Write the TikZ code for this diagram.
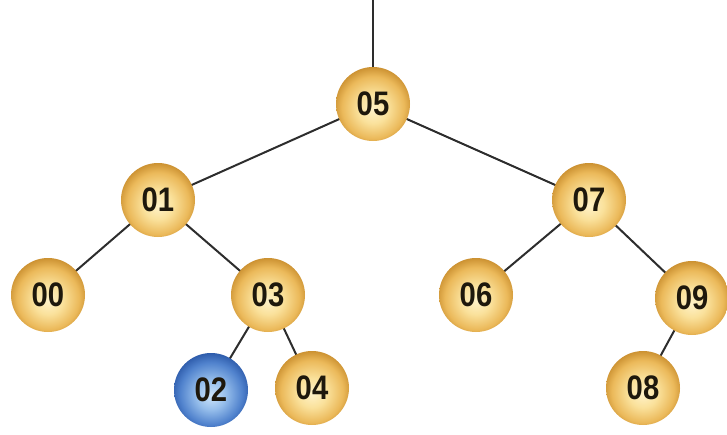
\documentclass[tikz,border=0pt]{standalone}
\usepackage{fontspec}
\setmainfont{Liberation Sans}
\newfontfamily\ballfont[FakeStretch=0.86]{Liberation Sans}
\usetikzlibrary{backgrounds}
\definecolor{gA}{RGB}{255,242,200}
\definecolor{gB}{RGB}{250,225,155}
\definecolor{gC}{RGB}{235,185,90}
\definecolor{gD}{RGB}{198,138,42}
\definecolor{bA}{RGB}{205,228,250}
\definecolor{bB}{RGB}{150,190,235}
\definecolor{bC}{RGB}{80,130,205}
\definecolor{bD}{RGB}{40,85,165}
\definecolor{txt}{RGB}{30,24,12}
\definecolor{edgec}{RGB}{45,45,45}
\pgfdeclareradialshading{goldball}{\pgfpoint{0bp}{-4bp}}{color(0bp)=(gA); color(10bp)=(gB); color(21bp)=(gC); color(28bp)=(gD); color(50bp)=(gD)}
\pgfdeclareradialshading{blueball}{\pgfpoint{0bp}{-4bp}}{color(0bp)=(bA); color(10bp)=(bB); color(21bp)=(bC); color(28bp)=(bD); color(50bp)=(bD)}
\tikzset{
  ball/.style={circle, minimum size=74pt, inner sep=0pt, shading=goldball,
    text=txt, font=\ballfont\bfseries\fontsize{34pt}{34pt}\selectfont},
  blueb/.style={ball, shading=blueball},
  link/.style={draw=edgec, line width=2pt}
}
\begin{document}
\begin{tikzpicture}[x=1pt,y=-1pt]
\useasboundingbox (0,0) rectangle (727,434);
\coordinate (top) at (373,0);
\node[ball] (n05) at (373,104) {05};
\node[ball] (n01) at (158,200) {01};
\node[ball] (n07) at (589,200) {07};
\node[ball] (n00) at (48,295) {00};
\node[ball] (n03) at (268,295) {03};
\node[ball] (n06) at (476,295) {06};
\node[ball] (n09) at (692,298) {09};
\node[blueb] (n02) at (211,390) {02};
\node[ball] (n04) at (312,388) {04};
\node[ball] (n08) at (643,388) {08};
\begin{scope}[on background layer]
\draw[link] (top) -- (n05.center);
\draw[link] (n05.center) -- (n01.center);
\draw[link] (n05.center) -- (n07.center);
\draw[link] (n01.center) -- (n00.center);
\draw[link] (n01.center) -- (n03.center);
\draw[link] (n03.center) -- (n02.center);
\draw[link] (n03.center) -- (n04.center);
\draw[link] (n07.center) -- (n06.center);
\draw[link] (n07.center) -- (n09.center);
\draw[link] (n09.center) -- (n08.center);
\end{scope}
\end{tikzpicture}
\end{document}
